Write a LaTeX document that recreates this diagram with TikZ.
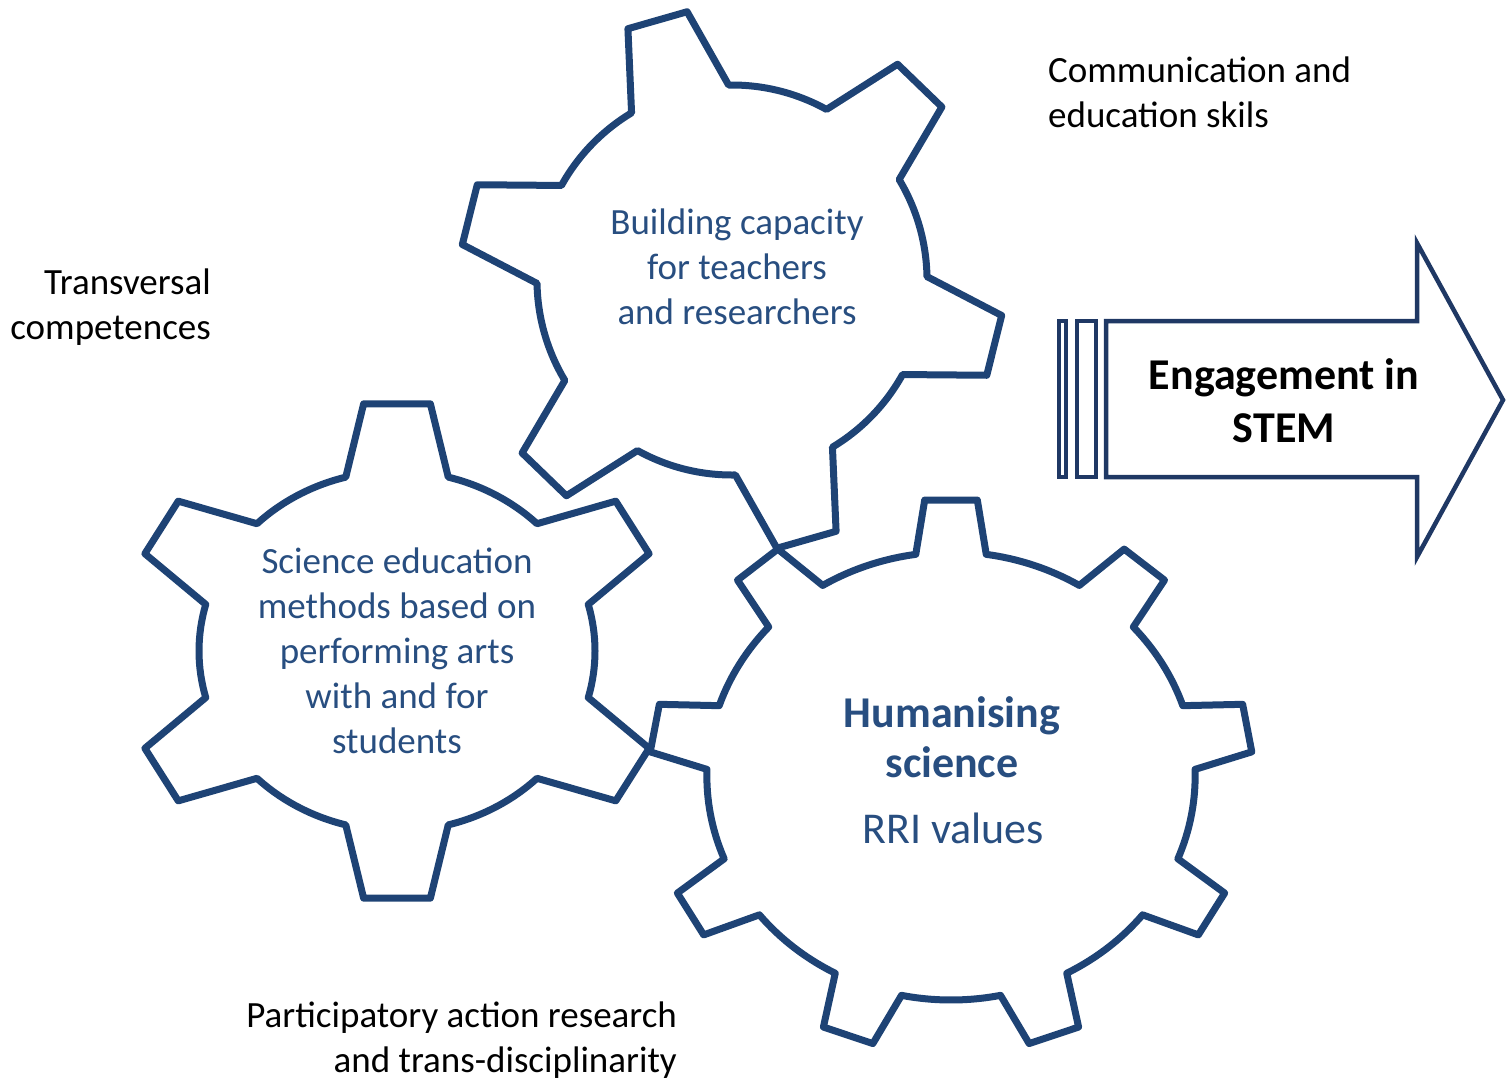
\documentclass[tikz,border=0pt]{standalone}
\usepackage{fontspec}
\setmainfont{Carlito}

\definecolor{gearblue}{RGB}{30,67,117}
\definecolor{arrowblue}{RGB}{31,56,100}
\definecolor{textblue}{RGB}{40,78,128}

\tikzset{
  gearline/.style={draw=gearblue, line width=7pt, line join=round},
  arrowline/.style={draw=arrowblue, line width=4.5pt},
  geartext/.style={text=textblue, align=center, inner sep=0pt, font=\fontsize{37}{45}\selectfont},
  sidetext/.style={text=black, inner sep=0pt, font=\fontsize{37}{45}\selectfont},
}

% #1 teeth, #2 inner radius, #3 outer radius, #4 half angle at foot, #5 half angle at tip, #6 angle of first tooth
\newcommand{\gearoutline}[6]{%
  \draw[gearline] ({#6-#4}:#2)
    \foreach \k in {1,...,#1}{
      -- ({#6+(\k-1)*360/#1-#5}:#3)
      -- ({#6+(\k-1)*360/#1+#5}:#3)
      -- ({#6+(\k-1)*360/#1+#4}:#2)
      arc[start angle={#6+(\k-1)*360/#1+#4}, end angle={#6+\k*360/#1-#4}, radius=#2]
    } -- cycle;
}

\begin{document}
\begin{tikzpicture}[x=1pt, y=1pt]
  \useasboundingbox (0,0) rectangle (1506,-1081);

  % the three gears
  \begin{scope}[shift={(732,-280)}]
    \gearoutline{6}{195}{272}{15}{6.5}{-14}
  \end{scope}
  \begin{scope}[shift={(397,-651)}, xscale=1.1]
    \gearoutline{6}{180}{249}{15}{7}{90}
  \end{scope}
  \begin{scope}[shift={(951,-776)}, xscale=1.09]
    \gearoutline{9}{224}{277}{8.3}{5}{90}
  \end{scope}

  % arrow on the right
  \draw[arrowline] (1106,-321) -- (1417,-321) -- (1417,-243) -- (1503,-400)
    -- (1417,-557) -- (1417,-477) -- (1106,-477) -- cycle;
  \draw[arrowline] (1059,-321) rectangle (1066,-477);
  \draw[arrowline] (1077,-321) rectangle (1096,-477);

  % texts
  \node[geartext] (build) at (737,-267) {Building capacity\\for teachers\\and researchers};
  \node[geartext] (science) at (397,-651) {Science education\\methods based on\\performing arts\\with and for\\students};
  \node[geartext, font=\fontsize{44}{50}\selectfont\bfseries] (human) at (952,-737) {Humanising\\science};
  \node[geartext, font=\fontsize{44}{50}\selectfont] (rri) at (953,-828) {RRI values};
  \node[inner sep=0pt, align=center, font=\fontsize{44}{53}\selectfont\bfseries] (engage) at (1284,-401) {Engagement in\\STEM};

  \node[sidetext, align=left, anchor=west] (comm) at (1048,-92) {Communication and\\education skils};
  \node[sidetext, align=right, anchor=east] (transv) at (211,-307) {Transversal\\competences};
  \node[sidetext, align=right, anchor=east] (partic) at (677,-1040) {Participatory action research\\and trans-disciplinarity};
\end{tikzpicture}
\end{document}
